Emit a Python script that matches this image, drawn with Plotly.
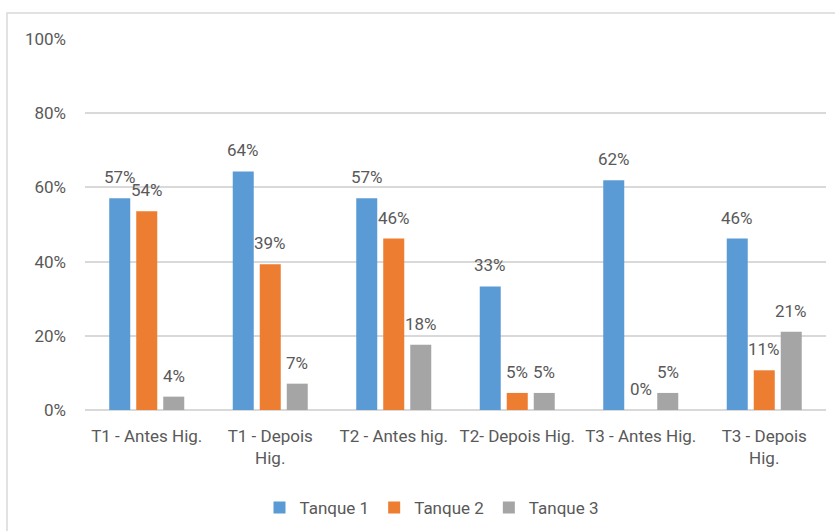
import plotly.graph_objects as go

# Categories (tank / moment relative to hygienisation)
categories = ["T1 - Antes Hig.", "T1 - Depois Hig.", "T2 - Antes hig.",
              "T2- Depois Hig.", "T3 - Antes Hig.", "T3 - Depois Hig."]
tick_labels = ["T1 - Antes Hig.", "T1 - Depois<br>Hig.", "T2 - Antes hig.",
               "T2- Depois Hig.", "T3 - Antes Hig.", "T3 - Depois<br>Hig."]

# Share per tank (fractions of 1)
tanque1 = [0.571, 0.643, 0.571, 0.333, 0.619, 0.462]
tanque2 = [0.536, 0.393, 0.462, 0.046, 0.0, 0.107]
tanque3 = [0.036, 0.071, 0.176, 0.046, 0.046, 0.211]

series_names = ["Tanque 1", "Tanque 2", "Tanque 3"]
colors = ["#5B9BD5", "#ED7D31", "#A5A5A5"]

FONT = "Roboto, Liberation Sans, sans-serif"
TEXT = "#595959"

W, H = 835, 531
L, R, T, B = 85, 9, 39, 121
pw, ph = W - L - R, H - T - B
BARGAP, GROUPGAP = 0.344, 0.222
slot_px = (1 - BARGAP) * pw / len(categories) / len(series_names)

fig = go.Figure()
annotations = []
for i, (name, vals, col) in enumerate(zip(series_names, [tanque1, tanque2, tanque3], colors)):
    fig.add_trace(go.Bar(
        name=name, x=categories, y=vals,
        marker=dict(color=col, line=dict(width=0)),
    ))
    # value labels sitting above each bar
    for cat, v in zip(categories, vals):
        annotations.append(dict(
            x=cat, y=v, xref="x", yref="y", text=f"{v:.0%}", showarrow=False,
            xanchor="center", yanchor="bottom",
            xshift=(i - 1) * slot_px, yshift=9,
            font=dict(family=FONT, size=17, color=TEXT),
        ))

def px_x(p):
    return (p - L) / pw

def px_y(p):
    return (H - B - p) / ph

fig.update_layout(
    width=W, height=H,
    margin=dict(l=L, r=R, t=T, b=B, autoexpand=False),
    paper_bgcolor="white", plot_bgcolor="white",
    barmode="group", bargap=BARGAP, bargroupgap=GROUPGAP,
    font=dict(family=FONT, size=17, color=TEXT),
    showlegend=True,
    legend=dict(orientation="h", x=px_x(432), xanchor="center",
                y=px_y(508), yanchor="middle",
                font=dict(family=FONT, size=17, color=TEXT),
                itemwidth=30, traceorder="normal"),
    xaxis=dict(tickmode="array", tickvals=categories, ticktext=tick_labels,
               showline=False, showgrid=False, ticks="", automargin=False,
               ticklabelstandoff=14,
               tickfont=dict(family=FONT, size=17, color=TEXT)),
    yaxis=dict(range=[0, 1], tickvals=[0, 0.2, 0.4, 0.6, 0.8, 1.0],
               tickformat=".0%", showgrid=True, gridcolor="#D9D9D9",
               gridwidth=1.5, zeroline=True, zerolinecolor="#D9D9D9",
               zerolinewidth=1.5, showline=False, ticks="", automargin=False,
               ticklabelstandoff=18,
               tickfont=dict(family=FONT, size=17, color=TEXT)),
    annotations=annotations,
    shapes=[dict(type="rect", xref="paper", yref="paper",
                 x0=px_x(7), x1=px_x(845), y0=px_y(540), y1=px_y(13),
                 line=dict(color="#D9D9D9", width=1.5), fillcolor="rgba(0,0,0,0)",
                 layer="below")],
)

fig.write_html("out.html")
